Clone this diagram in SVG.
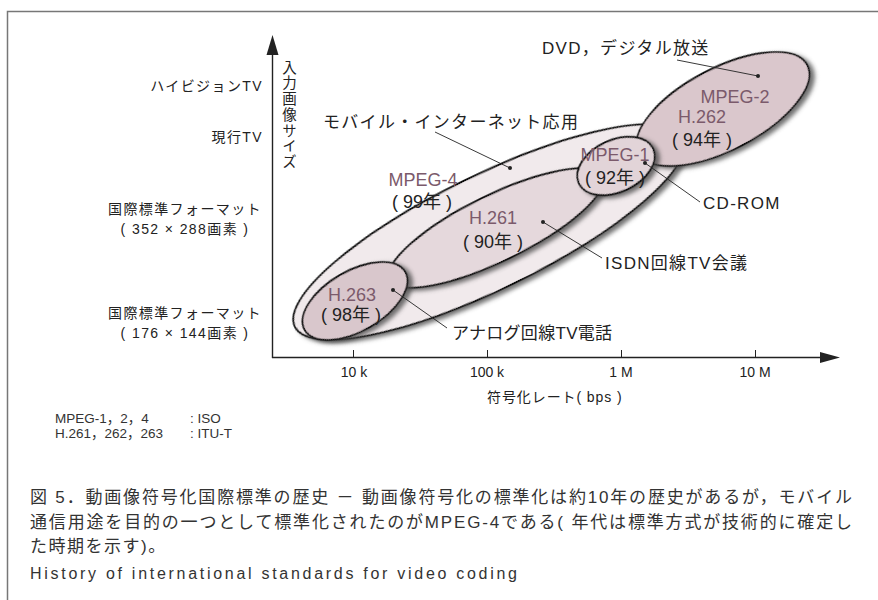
<svg xmlns="http://www.w3.org/2000/svg" width="878" height="600" viewBox="0 0 878 600">
<defs>
<style>
text{font-family:'Liberation Sans','Noto Sans CJK JP',sans-serif;fill:#222}
.ax{font-size:14px;letter-spacing:1.4px}
.tk{font-size:14px;text-anchor:middle}
.an{font-size:17px;letter-spacing:1.3px}
.nm{font-size:18px;fill:#7b5a6b;text-anchor:middle}
.yr{font-size:18px;text-anchor:middle}
.cap{font-size:17px;fill:#333}
.lg{font-size:13.5px;fill:#333}
.el{stroke:#111;stroke-width:1.8;filter:url(#sh)}
.ld{stroke:#222;stroke-width:0.9;fill:none}
</style>
<filter id="sh" x="-20%" y="-30%" width="140%" height="170%">
<feGaussianBlur in="SourceAlpha" stdDeviation="2.2"/>
<feOffset dx="3" dy="4" result="b"/>
<feFlood flood-color="#444" flood-opacity="0.75"/>
<feComposite in2="b" operator="in" result="s"/>
<feMerge><feMergeNode in="s"/><feMergeNode in="SourceGraphic"/></feMerge>
</filter>
</defs>
<rect width="878" height="600" fill="#fff"/>
<path d="M7.5 600V11.5H878" fill="none" stroke="#777" stroke-width="1.5"/>

<g id="axes">
<path d="M272.5 358V50M272 357.5H824" stroke="#222" stroke-width="1.4" fill="none"/>
<polygon points="272.5,35 266.5,55 278.5,55" fill="#222"/>
<polygon points="840,357.5 820,352 820,363" fill="#222"/>
<path d="M353.5 350v7M487.5 350v7M621.5 350v7M755.5 350v7" stroke="#222" stroke-width="1"/>
<text class="tk" x="354" y="377">10 k</text>
<text class="tk" x="487" y="377">100 k</text>
<text class="tk" x="621" y="377">1 M</text>
<text class="tk" x="755" y="377">10 M</text>
<text class="ax" x="487" y="402" textLength="136" lengthAdjust="spacing">符号化レート( bps )</text>
<text class="ax" x="288" y="60" style="writing-mode:vertical-rl;font-size:14.5px;letter-spacing:1.2px">入力画像サイズ</text>
<text class="ax" x="263" y="91" text-anchor="end">ハイビジョンTV</text>
<text class="ax" x="263" y="142" text-anchor="end">現行TV</text>
<text class="ax" x="185" y="214" text-anchor="middle">国際標準フォーマット</text>
<text class="ax" x="185" y="234" text-anchor="middle">( 352 × 288画素 )</text>
<text class="ax" x="185" y="318" text-anchor="middle">国際標準フォーマット</text>
<text class="ax" x="185" y="338" text-anchor="middle">( 176 × 144画素 )</text>
</g>

<g id="mpeg4">
<ellipse class="el" cx="489" cy="232" rx="216" ry="57" transform="rotate(-26 489 232)" fill="#f1eaec"/>
<text class="nm" x="423" y="186">MPEG-4</text>
<text class="yr" x="422" y="208">( 99年 )</text>
</g>
<g id="mpeg2">
<ellipse class="el" cx="723" cy="109" rx="95" ry="41" transform="rotate(-27.5 723 109)" fill="#dac7cc"/>
<text class="nm" x="735" y="103">MPEG-2</text>
<text class="nm" x="702" y="123">H.262</text>
<text class="yr" x="702" y="146">( 94年 )</text>
</g>
<g id="h261">
<ellipse class="el" cx="496" cy="228" rx="118" ry="33" transform="rotate(-26 496 228)" fill="#e5d8dc"/>
<text class="nm" x="493" y="224">H.261</text>
<text class="yr" x="493" y="248">( 90年 )</text>
</g>
<g id="h263">
<ellipse class="el" cx="355" cy="301" rx="58" ry="30" transform="rotate(-30 355 301)" fill="#d9c7cc"/>
<text class="nm" x="352" y="301">H.263</text>
<text class="yr" x="351" y="321">( 98年 )</text>
</g>
<g id="mpeg1">
<ellipse class="el" cx="616" cy="166" rx="41" ry="26" transform="rotate(-25 616 166)" fill="#e2d4d8"/>
<text class="nm" x="615" y="161">MPEG-1</text>
<text class="yr" x="615" y="184">( 92年 )</text>
</g>

<g id="connectors">
<path class="ld" d="M435 132L510 168M677 60L758 76M645 163L700 202M543 222L602 258M393 290L447 328"/>
<g fill="#222">
<circle cx="510" cy="168" r="2"/><circle cx="758" cy="76" r="2"/><circle cx="645" cy="163" r="2"/><circle cx="543" cy="222" r="2"/><circle cx="393" cy="290" r="2"/>
</g>
</g>

<g id="labels">
<text class="an" x="323" y="128">モバイル・インターネット応用</text>
<text class="an" x="542" y="54">DVD，デジタル放送</text>
<text class="an" x="703" y="209">CD-ROM</text>
<text class="an" x="605" y="269">ISDN回線TV会議</text>
<text class="an" x="452" y="339" style="letter-spacing:0.3px">アナログ回線TV電話</text>
</g>

<g id="legend">
<text class="lg" x="55" y="423">MPEG-1，2，4</text>
<text class="lg" x="190" y="423">: ISO</text>
<text class="lg" x="55" y="438">H.261，262，263</text>
<text class="lg" x="190" y="438">: ITU-T</text>
</g>

<g id="caption">
<text class="cap" x="30" y="503" textLength="822" lengthAdjust="spacing">図 5．動画像符号化国際標準の歴史 － 動画像符号化の標準化は約10年の歴史があるが，モバイル</text>
<text class="cap" x="30" y="528" textLength="822" lengthAdjust="spacing">通信用途を目的の一つとして標準化されたのがMPEG-4である( 年代は標準方式が技術的に確定し</text>
<text class="cap" x="30" y="552" style="letter-spacing:1.5px">た時期を示す)。</text>
<text class="cap" x="30" y="579" style="font-size:16px" textLength="487" lengthAdjust="spacing">History of international standards for video coding</text>
</g>
</svg>
